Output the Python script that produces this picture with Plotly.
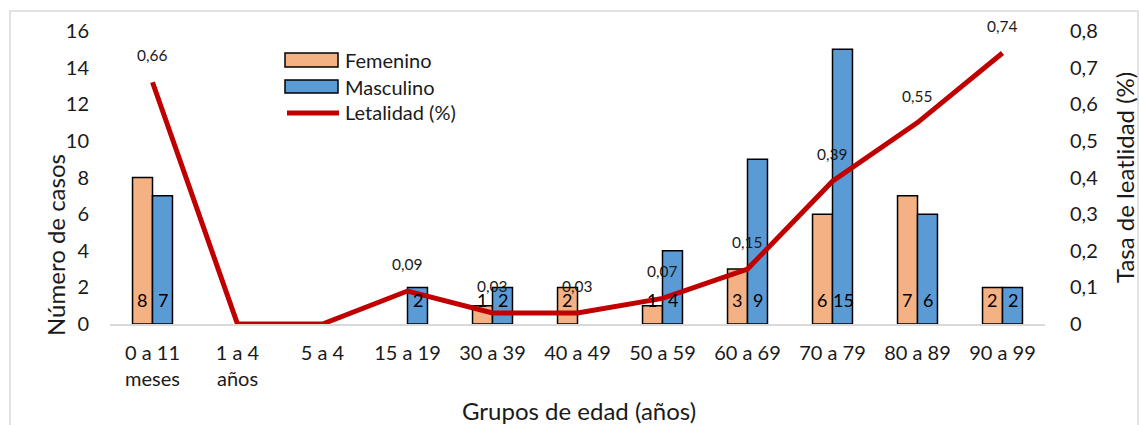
import plotly.graph_objects as go

categories = ["0 a 11<br>meses", "1 a 4<br>años", "5 a 4", "15 a 19", "30 a 39", "40 a 49",
              "50 a 59", "60 a 69", "70 a 79", "80 a 89", "90 a 99"]
femenino = [8, 0, 0, 0, 1, 2, 1, 3, 6, 7, 2]
masculino = [7, 0, 0, 2, 2, 0, 4, 9, 15, 6, 2]
letalidad = [0.66, 0, 0, 0.09, 0.03, 0.03, 0.07, 0.15, 0.39, 0.55, 0.74]

FONT = "Lato, Open Sans, sans-serif"
TXT = "#1a1a1a"
FEM_C = "#F4B183"
MAS_C = "#5B9BD5"
LINE_C = "#C00000"

# plot area in pixels
L, R, T, B = 110, 94, 31, 101
W, H = 1139, 425
PW, PH = W - L - R, H - T - B

def px(x):
    return (x - L) / PW

def py(y):
    return (H - B - y) / PH

def nz(vals):
    return [v if v else None for v in vals]

fig = go.Figure()
fig.add_trace(go.Bar(
    x=categories, y=nz(femenino), name="Femenino",
    marker=dict(color=FEM_C, line=dict(color="black", width=1.5)), showlegend=False,
))
fig.add_trace(go.Bar(
    x=categories, y=nz(masculino), name="Masculino",
    marker=dict(color=MAS_C, line=dict(color="black", width=1.5)), showlegend=False,
))
fig.add_trace(go.Scatter(
    x=categories, y=letalidad, name="Letalidad (%)", yaxis="y2", mode="lines",
    line=dict(color=LINE_C, width=5), showlegend=False,
))

# bar value labels (near the base, as in the reference)
for c, f, m in zip(categories, femenino, masculino):
    if f:
        fig.add_annotation(x=c, y=1.3, text=str(f), showarrow=False, xshift=-10.5,
                           font=dict(family=FONT, size=18, color="black"))
    if m:
        fig.add_annotation(x=c, y=1.3, text=str(m), showarrow=False, xshift=10.5,
                           font=dict(family=FONT, size=18, color="black"))

# line value labels
for c, v in zip(categories, letalidad):
    if v:
        fig.add_annotation(x=c, y=v, yref="y2", text=f"{v:.2f}".replace(".", ","),
                           showarrow=False, yshift=27,
                           font=dict(family=FONT, size=15.5, color=TXT))

# custom legend
fig.add_shape(type="rect", xref="paper", yref="paper", x0=px(285), x1=px(338), y0=py(67), y1=py(53),
              fillcolor=FEM_C, line=dict(color="black", width=1.5))
fig.add_shape(type="rect", xref="paper", yref="paper", x0=px(285), x1=px(338), y0=py(93), y1=py(80),
              fillcolor=MAS_C, line=dict(color="black", width=1.5))
fig.add_shape(type="line", xref="paper", yref="paper", x0=px(287), x1=px(339), y0=py(113), y1=py(113),
              line=dict(color=LINE_C, width=5))
for name, yy in [("Femenino", 60), ("Masculino", 86.5), ("Letalidad (%)", 112)]:
    fig.add_annotation(xref="paper", yref="paper", x=px(343), y=py(yy), text=name, showarrow=False,
                       xanchor="left", yanchor="middle", font=dict(family=FONT, size=20, color=TXT))

# axis titles placed as in the reference
fig.add_annotation(xref="paper", yref="paper", x=px(55), y=py(245), text="Número de casos",
                   showarrow=False, textangle=-90, xanchor="center", yanchor="middle",
                   font=dict(family=FONT, size=24, color=TXT))
fig.add_annotation(xref="paper", yref="paper", x=px(579), y=py(410), text="Grupos de edad (años)",
                   showarrow=False, xanchor="center", yanchor="middle",
                   font=dict(family=FONT, size=24, color=TXT))
fig.add_annotation(xref="paper", yref="paper", x=px(1124), y=py(178), text="Tasa de leatlidad (%)",
                   showarrow=False, textangle=-90, xanchor="center", yanchor="middle",
                   font=dict(family=FONT, size=24, color=TXT))

# outer border
fig.add_shape(type="rect", xref="paper", yref="paper", x0=px(10), x1=px(1138), y0=py(470), y1=py(11),
              line=dict(color="#d9d9d9", width=1.5), fillcolor="rgba(0,0,0,0)", layer="below")

fig.update_layout(
    width=W, height=H,
    margin=dict(l=L, r=R, t=T, b=B, autoexpand=False),
    plot_bgcolor="white", paper_bgcolor="white",
    barmode="group", bargap=0.53, bargroupgap=0,
    font=dict(family=FONT, color=TXT, size=20),
    showlegend=False,
    xaxis=dict(showgrid=False, showline=True, linecolor="#d9d9d9", linewidth=2, ticks="",
               tickfont=dict(size=20), ticklabelstandoff=10, automargin=False),
    yaxis=dict(range=[0, 16], dtick=2, showgrid=False, zeroline=False, showline=False,
               ticks="", tickfont=dict(size=20), ticklabelstandoff=20, automargin=False),
    yaxis2=dict(range=[0, 0.8], dtick=0.1, overlaying="y", side="right", showgrid=False,
                zeroline=False, showline=False, ticks="", tickfont=dict(size=20),
                ticklabelstandoff=24, automargin=False),
    separators=",.",
)
fig.write_html("out.html")
